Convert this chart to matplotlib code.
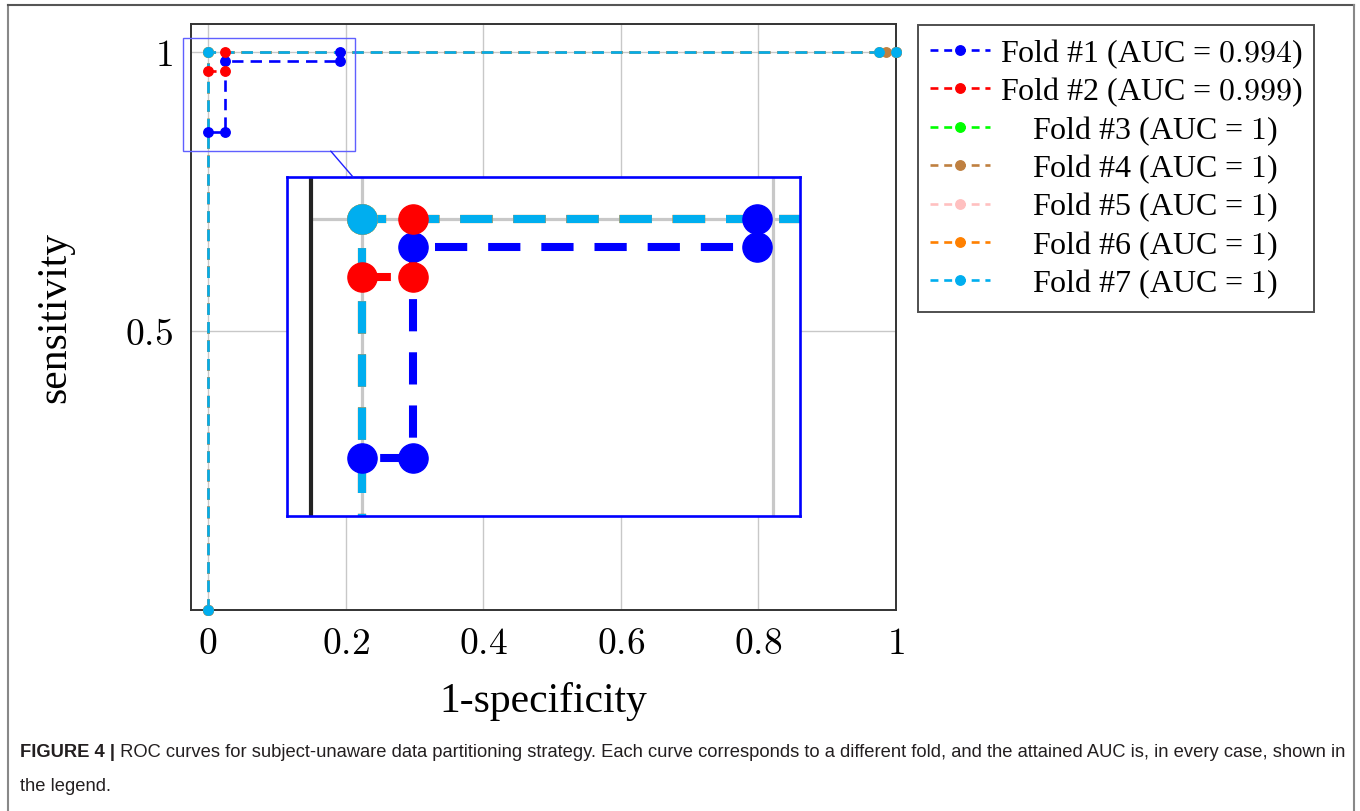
import matplotlib
matplotlib.use("Agg")
import matplotlib.pyplot as plt
from matplotlib.patches import Rectangle, ConnectionPatch
from matplotlib.lines import Line2D

plt.rcParams['mathtext.fontset'] = 'cm'
plt.rcParams['font.family'] = ['Liberation Serif', 'DejaVu Serif']

# ---------------- data ----------------
fold_labels = [
    r"Fold #1 (AUC = $0.994$)",
    r"Fold #2 (AUC = $0.999$)",
    r"    Fold #3 (AUC = $1$)",
    r"    Fold #4 (AUC = $1$)",
    r"    Fold #5 (AUC = $1$)",
    r"    Fold #6 (AUC = $1$)",
    r"    Fold #7 (AUC = $1$)",
]
fold_colors = ['#0000ff', '#ff0000', '#00ff00', '#bf8040', '#ffc0c0', '#ff8000', '#00aeef']

fpr_1 = [0, 0, 0.025, 0.025, 0.192, 0.192, 1]
tpr_1 = [0, 0.857, 0.857, 0.983, 0.983, 1, 1]
fpr_2 = [0, 0, 0.025, 0.025, 1]
tpr_2 = [0, 0.965, 0.965, 1, 1]
fpr_3 = [0, 0, 1]
tpr_3 = [0, 1, 1]
fpr_4 = [0, 0, 0.986, 1]
tpr_4 = [0, 1, 1, 1]
fpr_5 = [0, 0, 1]
tpr_5 = [0, 1, 1]
fpr_6 = [0, 0, 0.975, 1]
tpr_6 = [0, 1, 1, 1]
fpr_7 = [0, 0, 0.975, 1]
tpr_7 = [0, 1, 1, 1]
fprs = [fpr_1, fpr_2, fpr_3, fpr_4, fpr_5, fpr_6, fpr_7]
tprs = [tpr_1, tpr_2, tpr_3, tpr_4, tpr_5, tpr_6, tpr_7]

x_ticks = [0, 0.2, 0.4, 0.6, 0.8, 1]
x_tick_labels = ['0', '0.2', '0.4', '0.6', '0.8', '1']
y_ticks = [0.5, 1]
y_tick_labels = ['0.5', '1']

main_xlim = (-0.025, 1.0)
main_ylim = (0.0, 1.05)
zoom_xlim = (-0.0365, 0.2131)
zoom_ylim = (0.8223, 1.0251)

caption_bold = "FIGURE 4 |"
caption_line1 = (" ROC curves for subject-unaware data partitioning strategy. Each curve corresponds "
                 "to a different fold, and the attained AUC is, in every case, shown in")
caption_line2 = "the legend."

# ---------------- figure ----------------
W, H = 1360, 812
fig = plt.figure(figsize=(W / 100, H / 100), dpi=100)

def fx(px):
    return px / W

def fy(py):
    return 1 - py / H

ax = fig.add_axes([fx(190.7), fy(611), fx(896) - fx(190.7), fy(25) - fy(611)])
ax.set_xlim(*main_xlim)
ax.set_ylim(*main_ylim)

dash = (4.3, 2.7)
for xs, ys, c in zip(fprs, tprs, fold_colors):
    ax.plot(xs, ys, color=c, lw=1.9, dashes=dash, zorder=2)
for xs, ys, c in zip(fprs, tprs, fold_colors):
    ax.plot(xs, ys, color=c, lw=0, marker='o', ms=6.8, zorder=3, clip_on=False)

ax.set_xticks(x_ticks)
ax.set_xticklabels(['$' + t + '$' for t in x_tick_labels])
ax.set_yticks(y_ticks)
ax.set_yticklabels(['$' + t + '$' for t in y_tick_labels])
ax.tick_params(length=0, labelsize=27, pad=12)
ax.tick_params(axis='y', pad=13)
ax.grid(True, color='#c8c8c8', lw=1.0)
ax.set_axisbelow(True)
for s in ax.spines.values():
    s.set_color('#333333')
    s.set_linewidth(1.4)
ax.set_xlabel('1-specificity', fontsize=30, labelpad=14)
ax.set_ylabel('sensitivity', fontsize=30, labelpad=36)

# legend
handles = [Line2D([], [], color=c, lw=1.9, dashes=(3, 2.2), marker='o', ms=6.8) for c in fold_colors]
leg = fig.legend(handles, fold_labels, loc='upper left', bbox_to_anchor=(fx(918), fy(26)),
                 bbox_transform=fig.transFigure, borderaxespad=0, fontsize=23,
                 frameon=True, fancybox=False, edgecolor='#222222', handlelength=1.9,
                 handletextpad=0.3, labelspacing=0.15, borderpad=0.36, numpoints=1)
leg.get_frame().set_linewidth(1.4)

# zoom rectangle on main axes
rect = Rectangle((zoom_xlim[0], zoom_ylim[0]), zoom_xlim[1] - zoom_xlim[0], zoom_ylim[1] - zoom_ylim[0],
                 fill=False, edgecolor='#6060ff', lw=1.0, zorder=4, clip_on=False)
ax.add_patch(rect)

# inset
iax = fig.add_axes([fx(287), fy(517), fx(800) - fx(287), fy(178) - fy(517)], zorder=5)
iax.set_xlim(*zoom_xlim)
iax.set_ylim(*zoom_ylim)
iax.set_facecolor('white')
for xv in [t for t in x_ticks if zoom_xlim[0] < t < zoom_xlim[1]]:
    iax.axvline(xv, color='#c8c8c8', lw=2.3, zorder=1)
for yv in [t for t in y_ticks if zoom_ylim[0] < t < zoom_ylim[1]]:
    iax.plot([main_xlim[0], zoom_xlim[1]], [yv, yv], color='#c8c8c8', lw=2.3, zorder=1)
iax.axvline(main_xlim[0], color='#222222', lw=3.0, zorder=1.5)
for xs, ys, c in zip(fprs, tprs, fold_colors):
    iax.plot(xs, ys, color=c, lw=5.8, dashes=(4.0, 2.6), zorder=2)
for xs, ys, c in zip(fprs, tprs, fold_colors):
    iax.plot(xs, ys, color=c, lw=0, marker='o', ms=21, zorder=3)
iax.set_xticks([])
iax.set_yticks([])
for s in iax.spines.values():
    s.set_color('#0000ff')
    s.set_linewidth(1.9)

con = ConnectionPatch(xyA=(0.1785, zoom_ylim[0]), coordsA=ax.transData,
                      xyB=(0.1287, 1.0), coordsB=iax.transAxes,
                      color='#2020ff', lw=1.0, zorder=6)
fig.add_artist(con)

# figure border (left, top, right)
fig.add_artist(Line2D([fx(7.5), fx(7.5)], [0, fy(6)], transform=fig.transFigure, color='#888888', lw=1.5))
fig.add_artist(Line2D([fx(7.5), fx(1354)], [fy(6), fy(6)], transform=fig.transFigure, color='#555555', lw=1.5))
fig.add_artist(Line2D([fx(1354), fx(1354)], [0, fy(6)], transform=fig.transFigure, color='#888888', lw=1.5))

# caption
cap_family = ['Liberation Sans', 'DejaVu Sans']
tb = fig.text(fx(20), fy(753), caption_bold, fontsize=13.25, fontweight='bold', family=cap_family,
              va='center', ha='left', color='#231f20')
fig.canvas.draw()
bb = tb.get_window_extent(renderer=fig.canvas.get_renderer())
fig.text(bb.x1 / W, fy(753), caption_line1, fontsize=13.25, family=cap_family,
         va='center', ha='left', color='#231f20')
fig.text(fx(20), fy(787), caption_line2, fontsize=13.25, family=cap_family,
         va='center', ha='left', color='#231f20')

fig.savefig('out.png', dpi=100)
